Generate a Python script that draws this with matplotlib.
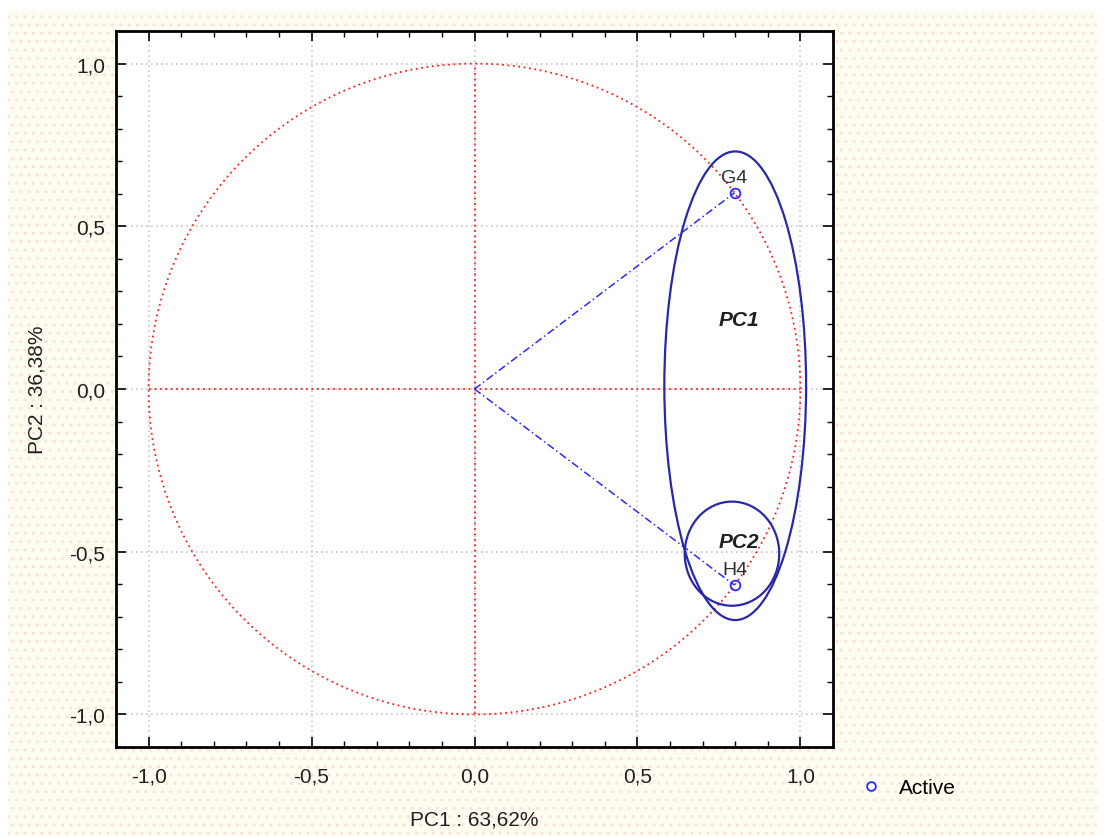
import matplotlib.pyplot as plt
import numpy as np
from matplotlib.patches import Ellipse, Rectangle
from matplotlib.ticker import MultipleLocator, FuncFormatter

plt.rcParams['font.family'] = ['Liberation Sans', 'DejaVu Sans']
plt.rcParams['hatch.linewidth'] = 1.0

# variable loadings on the first two components
var_names = ["G4", "H4"]
pc1_load = [0.798, 0.798]
pc2_load = [0.603, -0.603]
pc1_pct = 63.62
pc2_pct = 36.38

# group ellipses: centre x, centre y, width, height, label, label position
groups = [
    ("PC1", 0.80, 0.01, 0.435, 1.44, (0.81, 0.215)),
    ("PC2", 0.79, -0.506, 0.29, 0.32, (0.81, -0.47)),
]

fig = plt.figure(figsize=(11.05, 8.37), dpi=100)
fig.patch.set_facecolor('white')
bg = Rectangle((8 / 1105, 0), 1 - 16 / 1105, 1 - 12 / 837, transform=fig.transFigure,
               facecolor='#fffdf0', edgecolor='#fbe0e0', hatch='..', linewidth=0, zorder=-10)
fig.patches.append(bg)

ax = fig.add_axes([116 / 1105, 1 - 748 / 837, 717 / 1105, 716 / 837])
ax.set_facecolor('white')
ax.set_xlim(-1.1, 1.1)
ax.set_ylim(-1.1, 1.1)

# unit circle and axes through the origin
t = np.linspace(0, 2 * np.pi, 400)
ax.plot(np.cos(t), np.sin(t), color='#ff2020', linestyle=(0, (1, 2)), linewidth=1.3, zorder=2)
ax.plot([-1, 1], [0, 0], color='#ff2020', linestyle=(0, (1, 2)), linewidth=1.3, zorder=2)
ax.plot([0, 0], [-1, 1], color='#ff2020', linestyle=(0, (1, 2)), linewidth=1.3, zorder=2)

# loading vectors
for name, x, y in zip(var_names, pc1_load, pc2_load):
    ax.plot([0, x], [0, y], color='#2a2aff', linestyle=(0, (5, 2, 1, 2)), linewidth=1.1, zorder=3)
    ax.text(x, y + 0.022, name, ha='center', va='bottom', fontsize=14, color='#303030', zorder=5)
ax.plot(pc1_load, pc2_load, linestyle='none', marker='o', markersize=7,
        markerfacecolor='none', markeredgecolor='#2a2aff', markeredgewidth=1.3,
        zorder=4, label='Active')

for label, cx, cy, w, h, (lx, ly) in groups:
    ax.add_patch(Ellipse((cx, cy), w, h, fill=False, edgecolor='#2828a8', linewidth=1.6, zorder=3))
    ax.text(lx, ly, label, ha='center', va='center', fontsize=15, fontweight='bold',
            fontstyle='italic', color='#202020', zorder=5)

# ticks, grid and frame
fmt = FuncFormatter(lambda v, p: f"{v:.1f}".replace('.', ','))
for a in (ax.xaxis, ax.yaxis):
    a.set_major_locator(MultipleLocator(0.5))
    a.set_minor_locator(MultipleLocator(0.1))
    a.set_major_formatter(fmt)
ax.set_xticks([-1.0, -0.5, 0.0, 0.5, 1.0])
ax.set_yticks([-1.0, -0.5, 0.0, 0.5, 1.0])
ax.tick_params(which='both', direction='in', top=True, right=True, labelsize=15,
               colors='black', labelcolor='#202020')
ax.tick_params(which='major', length=7, width=1.2, pad=8)
ax.tick_params(axis='x', which='major', pad=14)
ax.tick_params(which='minor', length=4, width=1.0)
ax.grid(True, which='major', color='#c8c8c8', linestyle=(0, (1, 2)), linewidth=1.2, zorder=0)
ax.set_axisbelow(True)
for s in ax.spines.values():
    s.set_linewidth(2)

ax.set_xlabel(f"PC1 : {pc1_pct:.2f}%".replace('.', ','), fontsize=15, color='#202020', labelpad=17)
ax.set_ylabel(f"PC2 : {pc2_pct:.2f}%".replace('.', ','), fontsize=15, color='#202020', labelpad=16)

fig.legend(loc='center left', bbox_to_anchor=(836 / 1105, 1 - 789 / 837), frameon=False,
           fontsize=15, handletextpad=0.5, handlelength=1.6, markerscale=0.9)

fig.savefig('out.png', dpi=100)
